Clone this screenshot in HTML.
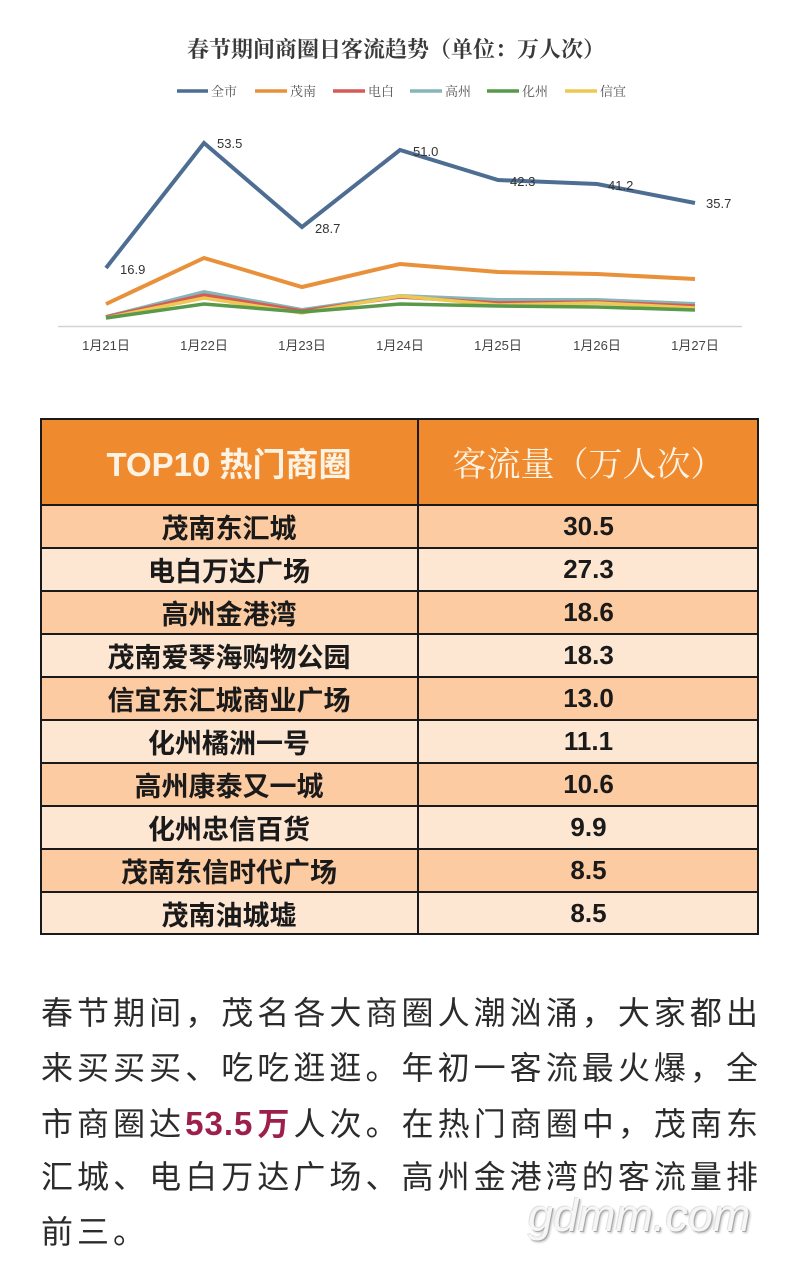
<!DOCTYPE html>
<html><head><meta charset="utf-8">
<style>
html,body{margin:0;padding:0;background:#fff;}
body{width:800px;height:1280px;position:relative;overflow:hidden;font-family:"Liberation Sans","Noto Sans CJK SC",sans-serif;}
.abs{position:absolute;}
.tbl{position:absolute;left:40px;top:418px;width:719px;height:517px;}
.cell{position:absolute;display:flex;align-items:center;justify-content:center;box-sizing:border-box;}
.name{font-family:"Liberation Sans","Noto Sans CJK SC",sans-serif;font-weight:bold;font-size:27px;color:#1a1a1a;}
.num{font-family:"Liberation Sans","Noto Sans CJK SC",sans-serif;font-weight:bold;font-size:26px;color:#1a1a1a;}
.para{position:absolute;left:41px;width:717px;height:55px;line-height:55px;font-size:32px;color:#2b2b2b;text-align:justify;text-align-last:justify;font-family:"Liberation Sans","Noto Sans CJK SC",sans-serif;white-space:nowrap;}
.hl{color:#9c1f4c;font-weight:bold;}
.hd{display:inline-block;font-size:33px;letter-spacing:1px;}
</style></head><body>

<svg class="abs" style="left:0;top:0" width="800" height="380" viewBox="0 0 800 380">
  <text x="396" y="57" text-anchor="middle" font-family="'Liberation Serif','Noto Serif CJK SC',serif" font-weight="bold" font-size="22" fill="#3a3a3a">春节期间商圈日客流趋势（单位：万人次）</text>
  <g font-family="'Liberation Serif','Noto Serif CJK SC',serif" font-size="13" fill="#555">
    <line x1="177" y1="91" x2="208" y2="91" stroke="#4E6D92" stroke-width="3.5"/><text x="211" y="96">全市</text>
    <line x1="255" y1="91" x2="287" y2="91" stroke="#E8913A" stroke-width="3.5"/><text x="290" y="96">茂南</text>
    <line x1="333" y1="91" x2="365" y2="91" stroke="#D65A57" stroke-width="3.5"/><text x="368" y="96">电白</text>
    <line x1="410" y1="91" x2="442" y2="91" stroke="#86B6B8" stroke-width="3.5"/><text x="445" y="96">高州</text>
    <line x1="487" y1="91" x2="519" y2="91" stroke="#58994A" stroke-width="3.5"/><text x="522" y="96">化州</text>
    <line x1="565" y1="91" x2="597" y2="91" stroke="#EDC853" stroke-width="3.5"/><text x="600" y="96">信宜</text>
  </g>
  <line x1="58" y1="326.5" x2="742" y2="326.5" stroke="#d4d4d4" stroke-width="1.5"/>
  <g fill="none" stroke-linejoin="miter" stroke-linecap="butt">
    <polyline points="106,317 204,292 302,310 400,296 498,300 597,300 695,304" stroke="#86B6B8" stroke-width="4"/>
    <polyline points="106,317 204,295 302,311 400,297 498,303 597,302 695,306" stroke="#D65A57" stroke-width="3.5"/>
    <polyline points="106,318 204,298 302,313 400,296 498,305 597,303 695,308" stroke="#EDC853" stroke-width="3.5"/>
    <polyline points="106,318 204,304 302,312 400,304 498,306 597,307 695,310" stroke="#58994A" stroke-width="3.5"/>
    <polyline points="106,304 204,258 302,287 400,264 498,272 597,274 695,279" stroke="#E8913A" stroke-width="4"/>
    <polyline points="106,268 204,143 302,227 400,150 498,180 597,184 695,203" stroke="#4E6D92" stroke-width="4"/>
  </g>
  <g font-family="'Liberation Sans',sans-serif" font-size="13" fill="#333">
    <text x="120" y="274">16.9</text>
    <text x="217" y="148">53.5</text>
    <text x="315" y="233">28.7</text>
    <text x="413" y="156">51.0</text>
    <text x="510" y="186">42.3</text>
    <text x="608" y="190">41.2</text>
    <text x="706" y="208">35.7</text>
  </g>
  <g font-family="'Liberation Sans','Noto Sans CJK SC',sans-serif" font-size="13" fill="#444" text-anchor="middle">
    <text x="106" y="350">1月21日</text>
    <text x="204" y="350">1月22日</text>
    <text x="302" y="350">1月23日</text>
    <text x="400" y="350">1月24日</text>
    <text x="498" y="350">1月25日</text>
    <text x="597" y="350">1月26日</text>
    <text x="695" y="350">1月27日</text>
  </g>
</svg>

<div class="tbl">
  <div class="abs" style="left:0;top:0;width:719px;height:87px;background:#F08A2E;"></div>
  <div class="abs" style="left:0;top:87px;width:719px;height:43px;background:#FCCBA1;"></div>
  <div class="abs" style="left:0;top:130px;width:719px;height:43px;background:#FDE7D3;"></div>
  <div class="abs" style="left:0;top:173px;width:719px;height:43px;background:#FCCBA1;"></div>
  <div class="abs" style="left:0;top:216px;width:719px;height:43px;background:#FDE7D3;"></div>
  <div class="abs" style="left:0;top:259px;width:719px;height:43px;background:#FCCBA1;"></div>
  <div class="abs" style="left:0;top:302px;width:719px;height:43px;background:#FDE7D3;"></div>
  <div class="abs" style="left:0;top:345px;width:719px;height:43px;background:#FCCBA1;"></div>
  <div class="abs" style="left:0;top:388px;width:719px;height:43px;background:#FDE7D3;"></div>
  <div class="abs" style="left:0;top:431px;width:719px;height:43px;background:#FCCBA1;"></div>
  <div class="abs" style="left:0;top:474px;width:719px;height:43px;background:#FDE7D3;"></div>
  <div class="abs" style="left:0;top:0;width:715px;height:513px;border:2px solid #1a1a1a;"></div>
  <div class="abs" style="left:377px;top:0;width:2px;height:517px;background:#1a1a1a;"></div>
  <div class="abs" style="left:0;top:86px;width:719px;height:2px;background:#1a1a1a;"></div>
  <div class="abs" style="left:0;top:129px;width:719px;height:2px;background:#1a1a1a;"></div>
  <div class="abs" style="left:0;top:172px;width:719px;height:2px;background:#1a1a1a;"></div>
  <div class="abs" style="left:0;top:215px;width:719px;height:2px;background:#1a1a1a;"></div>
  <div class="abs" style="left:0;top:258px;width:719px;height:2px;background:#1a1a1a;"></div>
  <div class="abs" style="left:0;top:301px;width:719px;height:2px;background:#1a1a1a;"></div>
  <div class="abs" style="left:0;top:344px;width:719px;height:2px;background:#1a1a1a;"></div>
  <div class="abs" style="left:0;top:387px;width:719px;height:2px;background:#1a1a1a;"></div>
  <div class="abs" style="left:0;top:430px;width:719px;height:2px;background:#1a1a1a;"></div>
  <div class="abs" style="left:0;top:473px;width:719px;height:2px;background:#1a1a1a;"></div>
  <div class="cell" style="left:0;top:0;width:378px;height:87px;color:#fdf3e4;font-size:33px;font-weight:bold;font-family:'Liberation Sans','Noto Sans CJK SC',sans-serif;">TOP10 热门商圈</div>
  <div class="cell" style="left:378px;top:0;width:341px;height:87px;color:#fdf3e4;font-size:34px;font-family:'Liberation Serif','Noto Serif CJK SC',serif;">客流量（万人次）</div>
  <div class="cell name" style="left:0;top:87px;width:378px;height:43px;">茂南东汇城</div>
  <div class="cell num" style="left:378px;top:87px;width:341px;height:43px;">30.5</div>
  <div class="cell name" style="left:0;top:130px;width:378px;height:43px;">电白万达广场</div>
  <div class="cell num" style="left:378px;top:130px;width:341px;height:43px;">27.3</div>
  <div class="cell name" style="left:0;top:173px;width:378px;height:43px;">高州金港湾</div>
  <div class="cell num" style="left:378px;top:173px;width:341px;height:43px;">18.6</div>
  <div class="cell name" style="left:0;top:216px;width:378px;height:43px;">茂南爱琴海购物公园</div>
  <div class="cell num" style="left:378px;top:216px;width:341px;height:43px;">18.3</div>
  <div class="cell name" style="left:0;top:259px;width:378px;height:43px;">信宜东汇城商业广场</div>
  <div class="cell num" style="left:378px;top:259px;width:341px;height:43px;">13.0</div>
  <div class="cell name" style="left:0;top:302px;width:378px;height:43px;">化州橘洲一号</div>
  <div class="cell num" style="left:378px;top:302px;width:341px;height:43px;">11.1</div>
  <div class="cell name" style="left:0;top:345px;width:378px;height:43px;">高州康泰又一城</div>
  <div class="cell num" style="left:378px;top:345px;width:341px;height:43px;">10.6</div>
  <div class="cell name" style="left:0;top:388px;width:378px;height:43px;">化州忠信百货</div>
  <div class="cell num" style="left:378px;top:388px;width:341px;height:43px;">9.9</div>
  <div class="cell name" style="left:0;top:431px;width:378px;height:43px;">茂南东信时代广场</div>
  <div class="cell num" style="left:378px;top:431px;width:341px;height:43px;">8.5</div>
  <div class="cell name" style="left:0;top:474px;width:378px;height:43px;">茂南油城墟</div>
  <div class="cell num" style="left:378px;top:474px;width:341px;height:43px;">8.5</div>
</div>

<div class="para" style="top:986px;">春节期间，茂名各大商圈人潮汹涌，大家都出</div>
<div class="para" style="top:1041px;">来买买买、吃吃逛逛。年初一客流最火爆，全</div>
<div class="para" style="top:1096px;">市商圈达<span class="hl"><span class="hd">53.5</span>万</span>人次。在热门商圈中，茂南东</div>
<div class="para" style="top:1150px;">汇城、电白万达广场、高州金港湾的客流量排</div>
<div class="para" style="top:1205px;text-align:left;text-align-last:left;letter-spacing:4px;">前三。</div>

<div class="abs" style="left:528px;top:1190px;font-family:'Liberation Sans',sans-serif;font-style:italic;font-size:45px;color:#f6f6f6;text-shadow:1px 1px 0 #a8a8a8,-1px -1px 0 #e0e0e0,2px 2px 2px #c4c4c4;">gdmm.com</div>

</body></html>
